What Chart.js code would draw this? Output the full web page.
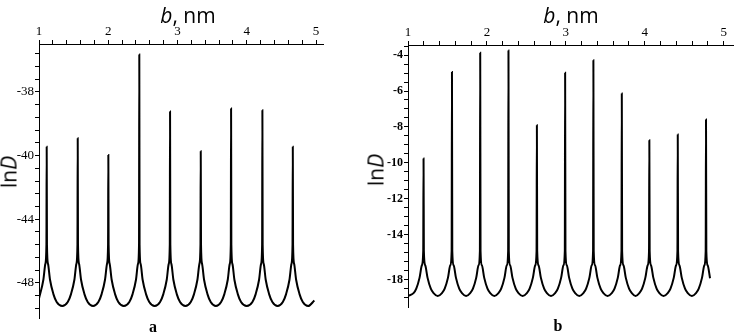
<!DOCTYPE html>
<html>
<head>
<meta charset="utf-8">
<script src="https://cdn.jsdelivr.net/npm/chart.js@4.4.1/dist/chart.umd.min.js"></script>
<style>
  html, body { margin: 0; padding: 0; background: #fff; }
  #wrap { position: relative; width: 747px; height: 334px; overflow: hidden; }
  canvas { position: absolute; top: 0; }
  .lbl { position: absolute; color: #000; white-space: nowrap; transform: translate(-50%, -50%); line-height: 1; }
  .ttl { font-family: 'Open Sans', 'Liberation Sans', sans-serif; font-size: 21px; }
  .ylab { font-family: 'Open Sans', 'Liberation Sans', sans-serif; font-size: 21px; transform: translate(-50%, -50%) rotate(-90deg); }
  .pan { font-family: 'Liberation Serif', serif; font-weight: bold; font-size: 16px; }
</style>
</head>
<body>
<div id="wrap">
  <canvas id="chartA" width="360" height="334" style="left:0;width:360px;height:334px"></canvas>
  <canvas id="chartB" width="377" height="334" style="left:370px;width:377px;height:334px"></canvas>
  <div class="lbl ttl" style="left:188px;top:15px"><i>b</i>, nm</div>
  <div class="lbl ttl" style="left:571px;top:15px"><i>b</i>, nm</div>
  <div class="lbl ylab" style="left:9px;top:172px">ln<i>D</i></div>
  <div class="lbl ylab" style="left:376px;top:170px">ln<i>D</i></div>
  <div class="lbl pan" style="left:153px;top:327px">a</div>
  <div class="lbl pan" style="left:558px;top:326px">b</div>
</div>
<script>
// panel a: b (nm) and lnD
const bA = [
  1.000, 1.063, 1.092, 1.107, 1.111, 1.115, 1.130, 1.159, 1.208, 1.255, 1.335,
  1.415, 1.462, 1.511, 1.540, 1.555, 1.559, 1.563, 1.578, 1.607, 1.656, 1.703, 1.780,
  1.857, 1.904, 1.953, 1.982, 1.997, 2.001, 2.005, 2.020, 2.049, 2.098, 2.145, 2.225,
  2.304, 2.351, 2.400, 2.429, 2.444, 2.448, 2.452, 2.467, 2.496, 2.545, 2.592, 2.670,
  2.748, 2.795, 2.844, 2.873, 2.888, 2.892, 2.896, 2.911, 2.940, 2.989, 3.036, 3.114,
  3.191, 3.238, 3.287, 3.316, 3.331, 3.335, 3.339, 3.354, 3.383, 3.432, 3.479, 3.554,
  3.629, 3.676, 3.725, 3.754, 3.769, 3.773, 3.777, 3.792, 3.821, 3.870, 3.917, 3.999,
  4.081, 4.128, 4.177, 4.206, 4.221, 4.225, 4.229, 4.244, 4.273, 4.322, 4.369, 4.445,
  4.520, 4.567, 4.616, 4.645, 4.660, 4.664, 4.668, 4.683, 4.712, 4.761, 4.808, 4.886, 4.975
];
const lnDA = [
  -48.97, -47.8, -46.8, -45.6, -39.45, -45.6, -46.8, -47.8, -48.7, -49.2, -49.45,
  -49.2, -48.7, -47.8, -46.8, -45.6, -38.91, -45.6, -46.8, -47.8, -48.7, -49.2, -49.45,
  -49.2, -48.7, -47.8, -46.8, -45.6, -39.97, -45.6, -46.8, -47.8, -48.7, -49.2, -49.45,
  -49.2, -48.7, -47.8, -46.8, -45.6, -33.66, -45.6, -46.8, -47.8, -48.7, -49.2, -49.45,
  -49.2, -48.7, -47.8, -46.8, -45.6, -37.24, -45.6, -46.8, -47.8, -48.7, -49.2, -49.45,
  -49.2, -48.7, -47.8, -46.8, -45.6, -39.74, -45.6, -46.8, -47.8, -48.7, -49.2, -49.45,
  -49.2, -48.7, -47.8, -46.8, -45.6, -37.05, -45.6, -46.8, -47.8, -48.7, -49.2, -49.45,
  -49.2, -48.7, -47.8, -46.8, -45.6, -37.16, -45.6, -46.8, -47.8, -48.7, -49.2, -49.45,
  -49.2, -48.7, -47.8, -46.8, -45.6, -39.45, -45.6, -46.8, -47.8, -48.7, -49.2, -49.45, -49.1
];

// panel b
const bB = [
  1.000, 1.070, 1.105, 1.146, 1.176, 1.193, 1.197, 1.201, 1.218, 1.248, 1.289, 1.324, 1.377,
  1.430, 1.465, 1.506, 1.536, 1.553, 1.557, 1.561, 1.578, 1.608, 1.649, 1.684, 1.736,
  1.788, 1.823, 1.864, 1.894, 1.911, 1.915, 1.919, 1.936, 1.966, 2.007, 2.042, 2.094,
  2.146, 2.181, 2.222, 2.252, 2.269, 2.273, 2.277, 2.294, 2.324, 2.365, 2.400, 2.453,
  2.506, 2.541, 2.582, 2.612, 2.629, 2.633, 2.637, 2.654, 2.684, 2.725, 2.760, 2.812,
  2.864, 2.899, 2.940, 2.970, 2.987, 2.991, 2.995, 3.012, 3.042, 3.083, 3.118, 3.170,
  3.222, 3.257, 3.298, 3.328, 3.345, 3.349, 3.353, 3.370, 3.400, 3.441, 3.476, 3.529,
  3.582, 3.617, 3.658, 3.688, 3.705, 3.709, 3.713, 3.730, 3.760, 3.801, 3.836, 3.884,
  3.931, 3.966, 4.007, 4.037, 4.054, 4.058, 4.062, 4.079, 4.109, 4.150, 4.185, 4.238,
  4.291, 4.326, 4.367, 4.397, 4.414, 4.418, 4.422, 4.439, 4.469, 4.510, 4.545, 4.597,
  4.649, 4.684, 4.725, 4.755, 4.772, 4.776, 4.780, 4.797, 4.827
];
const lnDB = [
  -17.41, -17.25, -17.0, -16.4, -15.7, -14.9, -9.76, -14.9, -15.7, -16.4, -17.0, -17.25, -17.41,
  -17.25, -17.0, -16.4, -15.7, -14.9, -4.94, -14.9, -15.7, -16.4, -17.0, -17.25, -17.41,
  -17.25, -17.0, -16.4, -15.7, -14.9, -3.87, -14.9, -15.7, -16.4, -17.0, -17.25, -17.41,
  -17.25, -17.0, -16.4, -15.7, -14.9, -3.74, -14.9, -15.7, -16.4, -17.0, -17.25, -17.41,
  -17.25, -17.0, -16.4, -15.7, -14.9, -7.91, -14.9, -15.7, -16.4, -17.0, -17.25, -17.41,
  -17.25, -17.0, -16.4, -15.7, -14.9, -4.98, -14.9, -15.7, -16.4, -17.0, -17.25, -17.41,
  -17.25, -17.0, -16.4, -15.7, -14.9, -4.29, -14.9, -15.7, -16.4, -17.0, -17.25, -17.41,
  -17.25, -17.0, -16.4, -15.7, -14.9, -6.14, -14.9, -15.7, -16.4, -17.0, -17.25, -17.41,
  -17.25, -17.0, -16.4, -15.7, -14.9, -8.74, -14.9, -15.7, -16.4, -17.0, -17.25, -17.41,
  -17.25, -17.0, -16.4, -15.7, -14.9, -8.42, -14.9, -15.7, -16.4, -17.0, -17.25, -17.41,
  -17.25, -17.0, -16.4, -15.7, -14.9, -7.59, -14.9, -15.7, -16.42
];

// tick labels (the printed y labels are not evenly spaced, so each sits at its own place)
const xLabels = ['1', '2', '3', '4', '5'];
const yLabelPosA = [-36, -40, -44, -48];
const yLabelTextA = ['-38', '-40', '-44', '-48'];
const yLabelPosB = [-4, -6, -8, -10, -12, -14, -16.5];
const yLabelTextB = ['-4', '-6', '-8', '-10', '-12', '-14', '-18'];

function steps(from, to, step) {
  const out = [];
  for (let v = from; v <= to + 1e-9; v += step) out.push(Math.round(v * 100) / 100);
  return out;
}

function makeChart(id, xs, ys, cfg) {
  const pts = xs.map((x, i) => ({ x: x, y: ys[i] }));
  const xTicks = steps(1, 5, 0.2);
  return new Chart(document.getElementById(id), {
    type: 'scatter',
    data: {
      datasets: [{
        data: pts,
        showLine: true,
        borderColor: '#000',
        borderWidth: 2,
        pointRadius: 0,
        cubicInterpolationMode: 'monotone',
        fill: false
      }]
    },
    options: {
      responsive: false,
      animation: false,
      events: [],
      layout: { padding: cfg.padding },
      plugins: { legend: { display: false }, tooltip: { enabled: false } },
      scales: {
        x: {
          type: 'linear',
          position: 'top',
          min: 1,
          max: cfg.xMax,
          afterBuildTicks: s => { s.ticks = xTicks.map(v => ({ value: v })); },
          afterFit: s => { s.height = cfg.top; },
          border: { display: true, color: '#000', width: 1 },
          grid: { drawOnChartArea: false, drawTicks: true, tickLength: 4, color: '#000' },
          ticks: {
            autoSkip: false, maxRotation: 0, padding: 1,
            color: '#000',
            font: { family: 'Liberation Serif', size: 13 },
            callback: v => Number.isInteger(Math.round(v * 100) / 100) ? xLabels[Math.round(v) - 1] : ''
          }
        },
        y: {
          type: 'linear',
          min: cfg.yMin,
          max: cfg.yMax,
          afterBuildTicks: s => { s.ticks = cfg.yTicks.map(v => ({ value: v })); },
          afterFit: s => { s.width = cfg.left; },
          border: { display: true, color: '#000', width: 1 },
          grid: { drawOnChartArea: false, drawTicks: true, tickLength: 4, color: '#000' },
          ticks: {
            autoSkip: false, padding: 1,
            color: '#000',
            font: cfg.yFont,
            callback: v => {
              const i = cfg.labelPos.findIndex(p => Math.abs(p - v) < 1e-6);
              return i >= 0 ? cfg.labelText[i] : '';
            }
          }
        }
      }
    }
  });
}

makeChart('chartA', bA, lnDA, {
  padding: { left: 0, right: 37, top: 0, bottom: 16 },
  top: 44, left: 39,
  xMax: 5.1,
  yMin: -50.2, yMax: -33,
  yTicks: steps(-49.6, -33.6, 0.8),
  labelPos: yLabelPosA, labelText: yLabelTextA,
  yFont: { family: 'Liberation Serif', size: 13 }
});

makeChart('chartB', bB, lnDB, {
  padding: { left: 0, right: 14, top: 0, bottom: 27 },
  top: 45, left: 38,
  xMax: 5.118,
  yMin: -18.02, yMax: -3.44,
  yTicks: steps(-17.5, -3.5, 0.5),
  labelPos: yLabelPosB, labelText: yLabelTextB,
  yFont: { family: 'Liberation Serif', size: 12, weight: 'bold' }
});
</script>
</body>
</html>
